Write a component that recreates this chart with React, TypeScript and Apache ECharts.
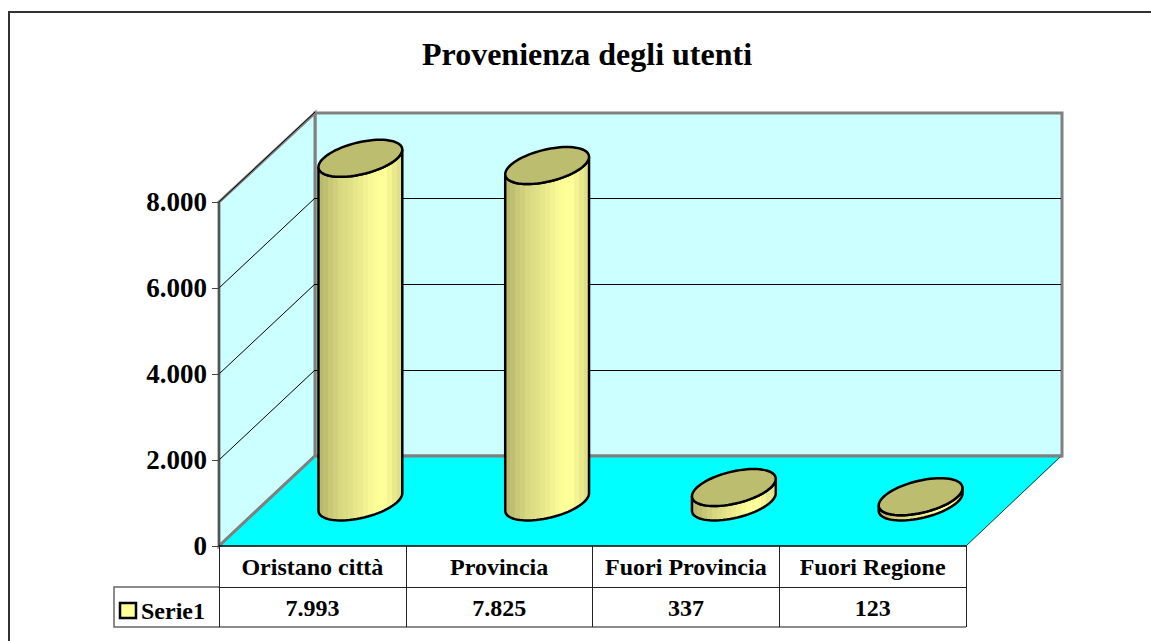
import React, { useEffect, useRef } from "react";
import * as echarts from "echarts";

const categories = ["Oristano città", "Provincia", "Fuori Provincia", "Fuori Regione"];
const values = [7993, 7825, 337, 123];
const valueLabels = ["7.993", "7.825", "337", "123"];
const yTicks = [2000, 4000, 6000, 8000];
const titleText = "Provenienza degli utenti";
const seriesName = "Serie1";

const FONT = "Liberation Serif";
const DEPTH_X = 96;
const DEPTH_Y = 90;
const BAR_DX = 48;
const BAR_DY = 44;
const ELL_A = 37;
const ELL_BX = 19.7;
const ELL_BY = 18.5;

const bandColors = [
  "#B9B96C", "#BFBF72", "#C8C878", "#D0D07C", "#D8D880", "#DCDC84", "#E0E086", "#E6E68A",
  "#ECEC8E", "#F2F292", "#F8F896", "#FDFD98", "#FFFF99", "#FFFF99", "#F4F494", "#E8E88C", "#E0E088",
];
const bandStops: { offset: number; color: string }[] = [];
bandColors.forEach((c, i) => {
  bandStops.push({ offset: i / bandColors.length, color: c });
  bandStops.push({ offset: (i + 1) / bandColors.length, color: c });
});

function ellipsePoint(cx: number, cy: number, t: number): number[] {
  return [cx + Math.cos(t) * ELL_A + Math.sin(t) * ELL_BX, cy - Math.sin(t) * ELL_BY];
}

function ellipsePoints(cx: number, cy: number): number[][] {
  const pts: number[][] = [];
  for (let i = 0; i < 72; i++) pts.push(ellipsePoint(cx, cy, (i / 72) * Math.PI * 2));
  return pts;
}

function frontHalf(cx: number, cy: number): number[][] {
  const t0 = Math.atan2(ELL_BX, ELL_A);
  const pts: number[][] = [];
  for (let i = 0; i <= 36; i++) pts.push(ellipsePoint(cx, cy, t0 + Math.PI + (i / 36) * Math.PI));
  return pts;
}

export default function App() {
  const ref = useRef<HTMLDivElement>(null);
  useEffect(() => {
    const chart = echarts.init(ref.current!, null, { renderer: "svg" });
    chart.setOption({
      animation: false,
      backgroundColor: "#ffffff",
      title: {
        text: titleText,
        left: 582,
        top: 33,
        textAlign: "center",
        textStyle: { fontFamily: FONT, fontWeight: "bold", fontSize: 32, color: "#000" },
      },
      grid: { left: 219, top: 202, width: 747, height: 344 },
      xAxis: [
        {
          type: "category",
          data: categories,
          position: "bottom",
          z: 5,
          axisLine: { lineStyle: { color: "#000", width: 1.5 } },
          axisTick: { show: true, length: 41, lineStyle: { color: "#222" } },
          axisLabel: { fontFamily: FONT, fontWeight: "bold", fontSize: 24, color: "#000", margin: 9, interval: 0 },
        },
        {
          type: "category",
          data: valueLabels,
          position: "bottom",
          offset: 41,
          z: 5,
          axisLine: { lineStyle: { color: "#222", width: 1 } },
          axisTick: { show: true, length: 40, lineStyle: { color: "#222" } },
          axisLabel: { fontFamily: FONT, fontWeight: "bold", fontSize: 24, color: "#000", margin: 9, interval: 0 },
        },
      ],
      yAxis: {
        type: "value",
        min: 0,
        max: 8000,
        interval: 2000,
        z: 5,
        axisLine: { show: true, lineStyle: { color: "#444", width: 1.5 } },
        axisTick: { show: true, length: 7, lineStyle: { color: "#444" } },
        splitLine: { show: false },
        axisLabel: {
          fontFamily: FONT,
          fontWeight: "bold",
          fontSize: 27,
          color: "#000",
          margin: 12,
          formatter: (v: number) => String(v).replace(/\B(?=(\d{3})+$)/g, "."),
        },
      },
      series: [
        {
          type: "custom",
          z: 1,
          silent: true,
          data: [[0, 0]],
          renderItem: (params: any) => {
            const { x, y, width, height } = params.coordSys;
            const bottom = y + height;
            const right = x + width;
            const border = { stroke: "#808080", lineWidth: 3 };
            return {
              type: "group",
              children: [
                {
                  type: "polygon",
                  shape: { points: [[x + DEPTH_X, y - DEPTH_Y + 1], [right + DEPTH_X, y - DEPTH_Y + 1], [right + DEPTH_X, bottom - DEPTH_Y], [x + DEPTH_X, bottom - DEPTH_Y]] },
                  style: { fill: "#CCFFFF", ...border },
                },
                {
                  type: "polygon",
                  shape: { points: [[x, y], [x + DEPTH_X, y - DEPTH_Y + 1], [x + DEPTH_X, bottom - DEPTH_Y], [x, bottom]] },
                  style: { fill: "#CCFFFF", ...border },
                },
                {
                  type: "polygon",
                  shape: { points: [[x, bottom], [x + DEPTH_X, bottom - DEPTH_Y], [right + DEPTH_X, bottom - DEPTH_Y], [right, bottom]] },
                  style: { fill: "#00FFFF", stroke: "none" },
                },
                {
                  type: "polyline",
                  shape: { points: [[x, bottom], [x + DEPTH_X, bottom - DEPTH_Y], [right + DEPTH_X, bottom - DEPTH_Y]] },
                  style: { fill: "none", ...border },
                },
                {
                  type: "line",
                  shape: { x1: right, y1: bottom, x2: right + DEPTH_X - 2, y2: bottom - DEPTH_Y + 1 },
                  style: { stroke: "#333", lineWidth: 1 },
                },
              ],
            };
          },
        },
        {
          type: "custom",
          z: 2,
          silent: true,
          data: yTicks.map((t) => [0, t]),
          renderItem: (params: any, api: any) => {
            const { x, width } = params.coordSys;
            const py = api.coord([0, api.value(1)])[1];
            const backY = py - DEPTH_Y + 0.5;
            const children: any[] = [
              {
                type: "line",
                shape: { x1: x, y1: py, x2: x + DEPTH_X, y2: py - DEPTH_Y },
                style: { stroke: "#000", lineWidth: 1 },
              },
            ];
            if (api.value(1) < 8000) {
              children.push({
                type: "line",
                shape: { x1: x + DEPTH_X, y1: backY, x2: x + width + DEPTH_X - 1, y2: backY },
                style: { stroke: "#000", lineWidth: 1 },
              });
            }
            return { type: "group", children };
          },
        },
        {
          type: "custom",
          z: 3,
          silent: true,
          xAxisIndex: 0,
          name: seriesName,
          data: values.map((v, i) => [i, v]),
          renderItem: (_params: any, api: any) => {
            const i = api.value(0);
            const base = api.coord([i, 0]);
            const top = api.coord([i, api.value(1)]);
            const cx = base[0] + BAR_DX;
            const cyBase = base[1] - BAR_DY;
            const cyTop = top[1] - BAR_DY;
            const lower = frontHalf(cx, cyBase);
            const upper = frontHalf(cx, cyTop).reverse();
            return {
              type: "group",
              children: [
                {
                  type: "polygon",
                  shape: { points: [...lower, ...upper] },
                  style: {
                    fill: new echarts.graphic.LinearGradient(0, 0, 1, 0, bandStops),
                    stroke: "#000",
                    lineWidth: 2.5,
                  },
                },
                {
                  type: "polygon",
                  shape: { points: ellipsePoints(cx, cyTop) },
                  style: { fill: "#BDBD70", stroke: "#000", lineWidth: 2.5 },
                },
              ],
            };
          },
        },
      ],
      graphic: [
        {
          type: "polyline",
          shape: { points: [[9, 641], [9, 12], [1151, 12]] },
          style: { fill: "none", stroke: "#333", lineWidth: 2 },
        },
        {
          type: "polyline",
          shape: { points: [[219, 587], [114, 587], [114, 627], [966, 627]] },
          style: { fill: "none", stroke: "#666", lineWidth: 1.5 },
        },
        {
          type: "rect",
          shape: { x: 120, y: 603, width: 16, height: 15 },
          style: { fill: "#FFFF99", stroke: "#000", lineWidth: 2.5 },
        },
        {
          type: "text",
          x: 141,
          y: 611,
          style: {
            text: seriesName,
            fill: "#000",
            font: `bold 24px "${FONT}"`,
            verticalAlign: "middle",
          },
        },
      ],
    });
    return () => chart.dispose();
  }, []);
  return <div ref={ref} style={{ position: "absolute", left: 0, top: 0, width: 1151, height: 641 }} />;
}
